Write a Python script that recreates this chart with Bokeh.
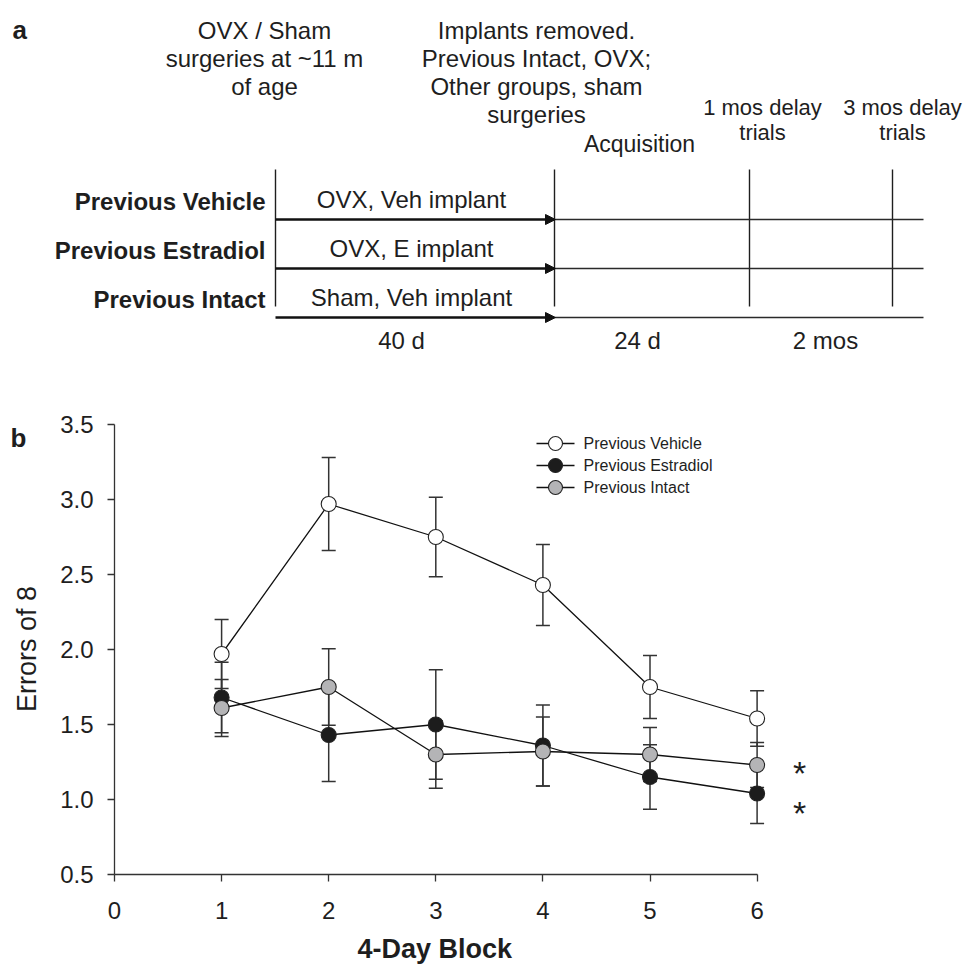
from bokeh.plotting import figure
from bokeh.models import (ColumnDataSource, Range1d, Arrow, NormalHead, Whisker, TeeHead,
                          FixedTicker, PrintfTickFormatter, LinearAxis)
from bokeh.layouts import column
from bokeh.core.properties import value
from bokeh.embed import file_html
from bokeh.resources import INLINE

FONT = "Liberation Sans"
INK = "#1e1e1e"

# ---------------- data : panel a (timeline) ----------------
groups = ["Previous Vehicle", "Previous Estradiol", "Previous Intact"]
treatments = ["OVX, Veh implant", "OVX, E implant", "Sham, Veh implant"]
phase_lengths = ["40 d", "24 d", "2 mos"]
note_surgery = ["OVX / Sham", "surgeries at ~11 m", "of age"]
note_removal = ["Implants removed.", "Previous Intact, OVX;", "Other groups, sham", "surgeries"]
note_acquisition = ["Acquisition"]
note_delay1 = ["1 mos delay", "trials"]
note_delay3 = ["3 mos delay", "trials"]

# ---------------- data : panel b (acquisition errors) ----------------
blocks = [1, 2, 3, 4, 5, 6]
veh_mean = [1.97, 2.97, 2.75, 2.43, 1.75, 1.54]
veh_se = [0.23, 0.31, 0.265, 0.27, 0.21, 0.185]
e2_mean = [1.68, 1.43, 1.50, 1.36, 1.15, 1.04]
e2_se = [0.235, 0.31, 0.365, 0.27, 0.215, 0.20]
int_mean = [1.61, 1.75, 1.30, 1.32, 1.30, 1.23]
int_se = [0.19, 0.255, 0.225, 0.23, 0.18, 0.15]
series_names = ["Previous Vehicle", "Previous Estradiol", "Previous Intact"]
x_ticks = [0, 1, 2, 3, 4, 5, 6]
y_ticks = [0.5, 1.0, 1.5, 2.0, 2.5, 3.0, 3.5]
sig_marks = ["*", "*"]
x_title = "4-Day Block"
y_title = "Errors of 8"

# ====================== panel a ======================
W = 966
HA = 362
pa = figure(width=W, height=HA, x_range=Range1d(0, W), y_range=Range1d(HA, 0),
            output_backend="svg", toolbar_location=None, min_border=0,
            x_axis_type=None, y_axis_type=None)
pa.frame_align = False
pa.outline_line_color = None

row_y = [219, 268, 317]
x_start, x_removal, x_end = 275, 554, 923
event_x = [275, 554, 749, 892]

pa.segment(x0=event_x, y0=[169] * 4, x1=event_x, y1=[306] * 4, line_color=INK, line_width=1.4)
pa.segment(x0=[x_removal] * 3, y0=row_y, x1=[x_end] * 3, y1=row_y, line_color="#2a2a2a", line_width=1.5)
for yy in row_y:
    pa.add_layout(Arrow(end=NormalHead(size=10, fill_color="#111", line_color="#111", line_width=1),
                        x_start=x_start, y_start=yy, x_end=x_removal + 1, y_end=yy,
                        line_color="#111", line_width=2.3))


def txt(fig, xs, ys, labels, size, align="center", bold=False, baseline="alphabetic"):
    fig.text(x=xs, y=ys, text=labels, text_font=value(FONT), text_font_size=size,
             text_align=align, text_baseline=baseline, text_color=INK,
             text_font_style="bold" if bold else "normal")


txt(pa, [12], [29], ["a"], "26px", align="left", bold=True)
txt(pa, [264] * 3, [30, 58, 86], note_surgery, "24px")
txt(pa, [536] * 4, [30, 58, 86, 114], note_removal, "24px")
txt(pa, [639], [143], note_acquisition, "23px")
txt(pa, [762] * 2, [107, 132], note_delay1, "22px")
txt(pa, [902] * 2, [107, 132], note_delay3, "22px")
txt(pa, [265] * 3, [y - 18 for y in row_y], groups, "24px", align="right", bold=True)
txt(pa, [411] * 3, [y - 20 for y in row_y], treatments, "24px")
txt(pa, [401, 637, 825], [340] * 3, phase_lengths, "24px")

# ====================== panel b ======================
HB = 968 - HA
left, right, top, bottom = 114, 958, 423, 874   # page pixel frame edges
px_per_x, px_per_y = 107.1, 150.0
pb = figure(width=W, height=HB,
            x_range=Range1d(0, (right - left) / px_per_x),
            y_range=Range1d(0.5, 0.5 + (bottom - top) / px_per_y),
            output_backend="svg", toolbar_location=None,
            min_border_left=left, min_border_right=W - right,
            min_border_top=top - HA, min_border_bottom=968 - bottom)
pb.frame_align = False
pb.outline_line_color = None
pb.grid.visible = False


def dx(px):   # page x pixel -> data x
    return (px - left) / px_per_x


def dy(py):   # page y pixel -> data y
    return 0.5 + (bottom - py) / px_per_y


for ax in (pb.xaxis, pb.yaxis):
    ax.axis_line_color = "#333"
    ax.axis_line_width = 1.3
    ax.major_tick_line_color = "#333"
    ax.major_tick_line_width = 1.3
    ax.major_tick_out = 7
    ax.major_tick_in = 0
    ax.minor_tick_line_color = None
    ax.major_label_text_font = FONT
    ax.major_label_text_font_size = "24px"
    ax.major_label_text_color = INK

pb.xaxis.ticker = FixedTicker(ticks=x_ticks)
pb.xaxis.bounds = (x_ticks[0], x_ticks[-1])
pb.xaxis.major_label_standoff = 20
pb.yaxis.ticker = FixedTicker(ticks=y_ticks)
pb.yaxis.bounds = (y_ticks[0], y_ticks[-1])
pb.yaxis.formatter = PrintfTickFormatter(format="%.1f")
pb.yaxis.major_label_standoff = 14
pb.yaxis.axis_label = y_title
pb.yaxis.axis_label_text_font = FONT
pb.yaxis.axis_label_text_font_size = "27px"
pb.yaxis.axis_label_text_font_style = "normal"
pb.yaxis.axis_label_text_color = INK
pb.yaxis.axis_label_standoff = 15

# x title as the single label of an extra, line-less axis (centred under block ~3)
title_pos = 2.99
xt = LinearAxis(ticker=FixedTicker(ticks=[title_pos]), major_label_overrides={title_pos: x_title},
                axis_line_color=None, major_tick_line_color=None, minor_tick_line_color=None,
                major_tick_out=0, major_label_standoff=12,
                major_label_text_font=FONT, major_label_text_font_size="27px",
                major_label_text_font_style="bold", major_label_text_color=INK)
pb.add_layout(xt, "below")

# panel letter "b" as the single label of an extra, line-less left axis
b_pos = 3.413
bt = LinearAxis(ticker=FixedTicker(ticks=[b_pos]), major_label_overrides={b_pos: "b"},
                axis_line_color=None, major_tick_line_color=None, minor_tick_line_color=None,
                major_tick_out=0, major_label_standoff=-17,
                major_label_text_font=FONT, major_label_text_font_size="26px",
                major_label_text_font_style="bold", major_label_text_color=INK)
pb.add_layout(bt, "left")

fills = ["white", "#1c1c1c", "#b4b4b6"]
means = [veh_mean, e2_mean, int_mean]
ses = [veh_se, e2_se, int_se]

sources = []
for m, s in zip(means, ses):
    sources.append(ColumnDataSource(dict(x=blocks, y=m,
                                         upper=[a + b for a, b in zip(m, s)],
                                         lower=[a - b for a, b in zip(m, s)])))

for src in sources:
    pb.line("x", "y", source=src, line_color="#111", line_width=1.3)

for src in sources:
    pb.add_layout(Whisker(source=src, base="x", upper="upper", lower="lower",
                          dimension="height", line_color="#333", line_width=1.5,
                          upper_head=TeeHead(size=14, line_color="#333", line_width=1.5),
                          lower_head=TeeHead(size=14, line_color="#333", line_width=1.5)))

for src, fc in zip(sources, fills):
    pb.scatter("x", "y", source=src, marker="circle", size=15,
               fill_color=fc, line_color="#222", line_width=1.1)

# legend (drawn inside the frame: line + marker + label per series)
leg_rows = [dy(443 + 22 * i) for i in range(3)]
pb.segment(x0=[dx(536)] * 3, y0=leg_rows, x1=[dx(574)] * 3, y1=leg_rows,
           line_color="#111", line_width=1.3)
pb.scatter(x=[dx(555)] * 3, y=leg_rows, marker="circle", size=14,
           fill_color=fills, line_color="#222", line_width=1.1)
pb.text(x=[dx(583)] * 3, y=leg_rows, text=series_names, text_font=value(FONT),
        text_font_size="16px", text_align="left", text_baseline="middle", text_color=INK)

# significance marks beside the last block
pb.text(x=[dx(799)] * 2, y=[dy(772), dy(812)],
        text=sig_marks, text_font=value(FONT), text_font_size="34px",
        text_align="center", text_baseline="alphabetic", text_color=INK)

layout = column(pa, pb)
open("out.html", "w").write(file_html(layout, INLINE))
